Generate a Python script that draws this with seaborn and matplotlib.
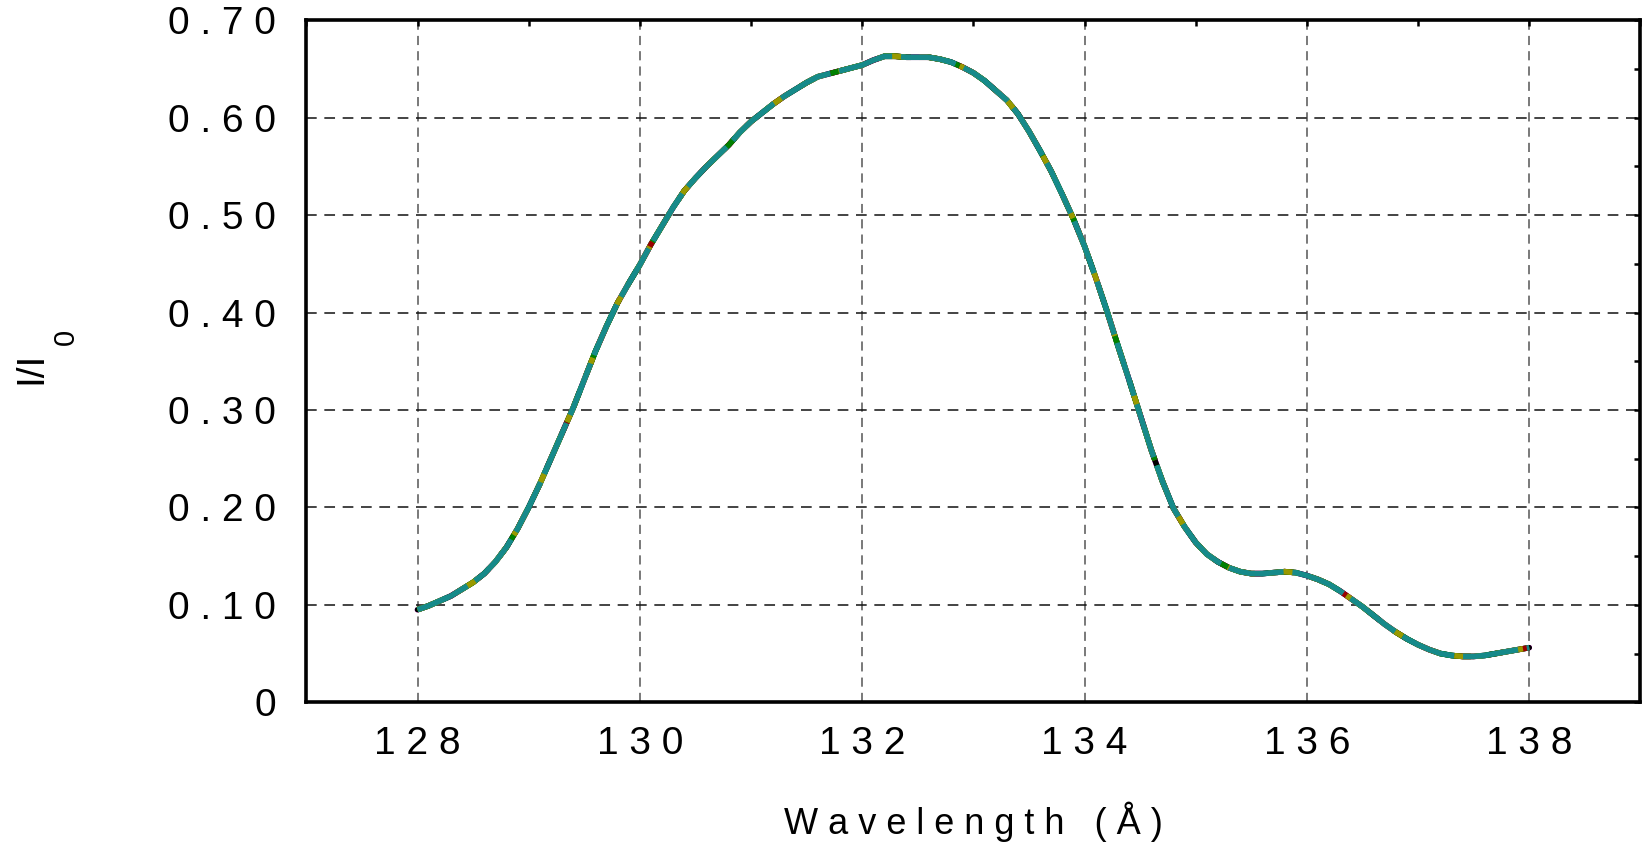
import pandas as pd
import matplotlib
matplotlib.use("Agg")
import matplotlib.pyplot as plt
import seaborn as sns
from matplotlib.ticker import MultipleLocator

# wavelength grid (Angstrom) and normalised intensity
wavelength = [128.0, 128.1, 128.2, 128.3, 128.4, 128.5, 128.6, 128.7, 128.8, 128.9,
              129.0, 129.1, 129.2, 129.3, 129.4, 129.5, 129.6, 129.7, 129.8, 129.9,
              130.0, 130.1, 130.2, 130.3, 130.4, 130.5, 130.6, 130.7, 130.8, 130.9,
              131.0, 131.1, 131.2, 131.3, 131.4, 131.5, 131.6, 131.7, 131.8, 131.9,
              132.0, 132.1, 132.2, 132.3, 132.4, 132.5, 132.6, 132.7, 132.8, 132.9,
              133.0, 133.1, 133.2, 133.3, 133.4, 133.5, 133.6, 133.7, 133.8, 133.9,
              134.0, 134.1, 134.2, 134.3, 134.4, 134.5, 134.6, 134.7, 134.8, 134.9,
              135.0, 135.1, 135.2, 135.3, 135.4, 135.5, 135.6, 135.7, 135.8, 135.9,
              136.0, 136.1, 136.2, 136.3, 136.4, 136.5, 136.6, 136.7, 136.8, 136.9,
              137.0, 137.1, 137.2, 137.3, 137.4, 137.5, 137.6, 137.7, 137.8, 137.9,
              138.0]
ratio = [0.095, 0.099, 0.104, 0.109, 0.116, 0.123, 0.132, 0.144, 0.159, 0.178,
         0.200, 0.224, 0.250, 0.276, 0.302, 0.331, 0.360, 0.386, 0.410, 0.430,
         0.449, 0.470, 0.489, 0.508, 0.525, 0.538, 0.550, 0.561, 0.572, 0.585,
         0.596, 0.605, 0.614, 0.622, 0.629, 0.636, 0.642, 0.645, 0.648, 0.651,
         0.654, 0.659, 0.663, 0.663, 0.662, 0.662, 0.662, 0.660, 0.657, 0.652,
         0.646, 0.638, 0.628, 0.618, 0.604, 0.586, 0.566, 0.545, 0.521, 0.496,
         0.468, 0.436, 0.402, 0.366, 0.331, 0.295, 0.259, 0.227, 0.199, 0.180,
         0.164, 0.152, 0.144, 0.138, 0.134, 0.132, 0.132, 0.133, 0.134, 0.133,
         0.130, 0.126, 0.121, 0.114, 0.106, 0.098, 0.089, 0.080, 0.072, 0.065,
         0.059, 0.054, 0.050, 0.048, 0.047, 0.047, 0.048, 0.050, 0.052, 0.054,
         0.056]

runs = ["run 1", "run 2", "run 3", "run 4", "run 5", "run 6", "run 7"]
run_colors = ["#ff00ff", "#000000", "#00cc00", "#990000", "#008000", "#999900", "#168a8a"]
run_dashes = ["", "", (4, 4), (3, 3), (6, 3), (5, 2.5), (10, 1.6)]

x_ticks = [128, 130, 132, 134, 136, 138]
x_labels = ["1 2 8", "1 3 0", "1 3 2", "1 3 4", "1 3 6", "1 3 8"]
y_ticks = [0.0, 0.1, 0.2, 0.3, 0.4, 0.5, 0.6, 0.7]
y_labels = ["0", "0 . 1 0", "0 . 2 0", "0 . 3 0", "0 . 4 0", "0 . 5 0", "0 . 6 0", "0 . 7 0"]

df = pd.DataFrame({
    "wavelength": wavelength * len(runs),
    "ratio": ratio * len(runs),
    "run": [r for r in runs for _ in wavelength],
})

sns.set_style("white")
plt.rcParams["font.family"] = ["Liberation Sans", "DejaVu Sans"]
plt.rcParams["text.color"] = "black"
plt.rcParams["axes.labelcolor"] = "black"
plt.rcParams["xtick.color"] = "black"
plt.rcParams["ytick.color"] = "black"

fig, ax = plt.subplots(figsize=(16.47, 8.43), dpi=100)
fig.subplots_adjust(left=0.186, right=0.996, bottom=0.167, top=0.976)

sns.lineplot(data=df, x="wavelength", y="ratio", hue="run", style="run",
             hue_order=runs, style_order=runs,
             palette=dict(zip(runs, run_colors)),
             dashes=dict(zip(runs, run_dashes)),
             estimator=None, sort=False, linewidth=4.0, legend=False, ax=ax)

ax.set_xlim(127, 139)
ax.set_ylim(0, 0.70)
ax.set_xticks(x_ticks, x_labels)
ax.set_yticks(y_ticks, y_labels)
ax.xaxis.set_minor_locator(MultipleLocator(1))
ax.yaxis.set_minor_locator(MultipleLocator(0.05))

ax.set_axisbelow(True)
ax.yaxis.grid(True, color="#111111", linewidth=1.1, linestyle=(0, (7, 5)))
ax.xaxis.grid(True, color="#555555", linewidth=1.1, linestyle=(0, (6, 4)))

ax.tick_params(which="both", direction="in", top=True, right=True,
               length=4, width=1.8, color="black")
ax.tick_params(axis="y", labelsize=28, pad=22)
ax.tick_params(axis="x", labelsize=28, pad=17)
for side in ax.spines.values():
    side.set_linewidth(2.6)
    side.set_color("black")

ax.set_xlabel("W a v e l e n g t h   ( Å )", fontsize=26, va="center")
ax.xaxis.set_label_coords(0.5, -0.175)
ax.set_ylabel("I/I", fontsize=28, va="center")
ax.yaxis.set_label_coords(-0.206, 0.49)
ax.text(-0.180, 0.535, "0", transform=ax.transAxes, rotation=90,
        fontsize=21, ha="center", va="center")

fig.savefig("out.png", dpi=100)
